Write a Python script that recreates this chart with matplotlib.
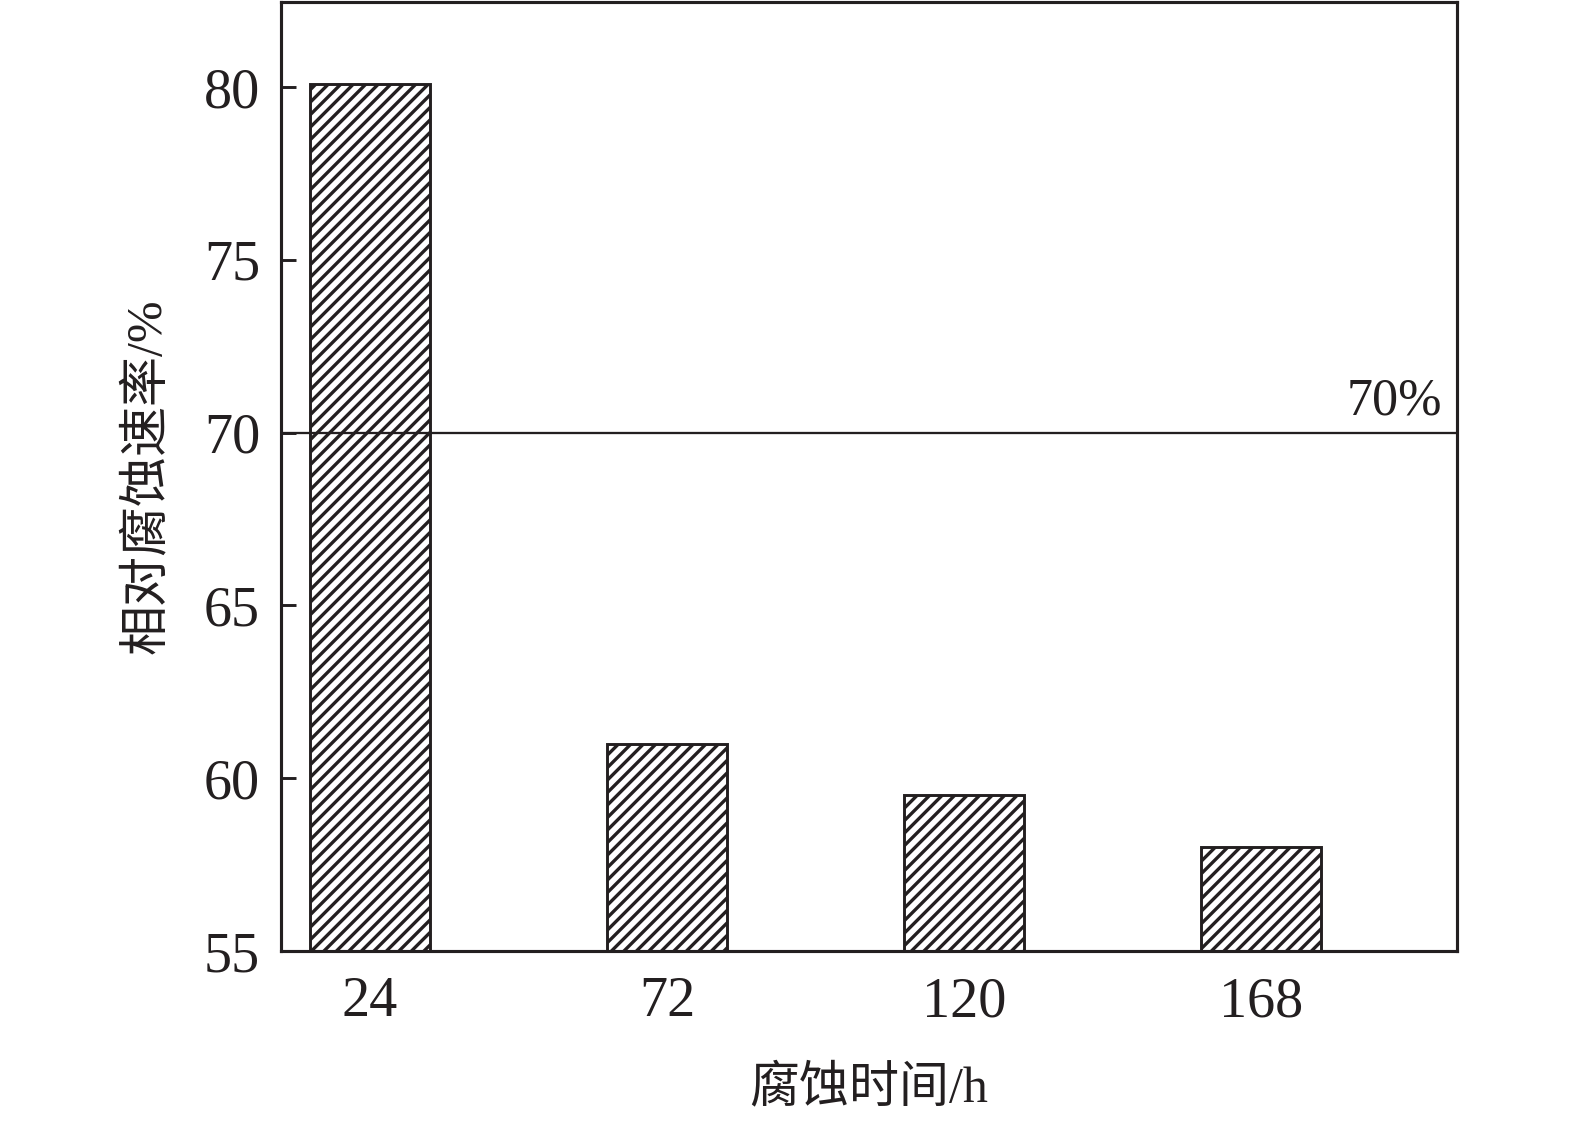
import matplotlib
matplotlib.use("Agg")
import matplotlib.pyplot as plt

categories = ["24", "72", "120", "168"]
values = [80.1, 61.0, 59.5, 58.0]
threshold = 70
yticks = [55, 60, 65, 70, 75, 80]

plt.rcParams['font.family'] = ['Liberation Serif', 'Noto Sans CJK SC']
plt.rcParams['hatch.linewidth'] = 1.6
plt.rcParams['hatch.color'] = '#231f20'

fig = plt.figure(figsize=(10.5, 7.48), dpi=150)
ax = fig.add_axes([0.1784, 0.1524, 0.7467, 0.8458])

x = list(range(len(categories)))
ax.bar(x, values, width=0.405, bottom=0, color='white', edgecolor='#231f20',
       linewidth=1.4, hatch='////', zorder=2)
ax.axhline(threshold, color='#231f20', linewidth=1.1, zorder=3)
ax.text(3.61, threshold + 0.2, "70%", ha='right', va='bottom', fontsize=25,
        color='#231f20')

ax.set_xlim(-0.30, 3.66)
ax.set_ylim(55, 82.46)
ax.set_yticks(yticks)
ax.set_xticks(x)
ax.set_xticklabels(categories)
ax.tick_params(axis='y', direction='in', length=7, width=1.4, labelsize=27,
               pad=10, colors='#231f20')
ax.tick_params(axis='x', length=0, labelsize=27, pad=12, colors='#231f20')
for s in ax.spines.values():
    s.set_linewidth(1.5)
    s.set_color('#231f20')

ax.set_ylabel("相对腐蚀速率/%", fontsize=24, labelpad=16, color='#231f20')
ax.set_xlabel("腐蚀时间/h", fontsize=24, labelpad=18, color='#231f20')

fig.savefig("out.png", dpi=150)
